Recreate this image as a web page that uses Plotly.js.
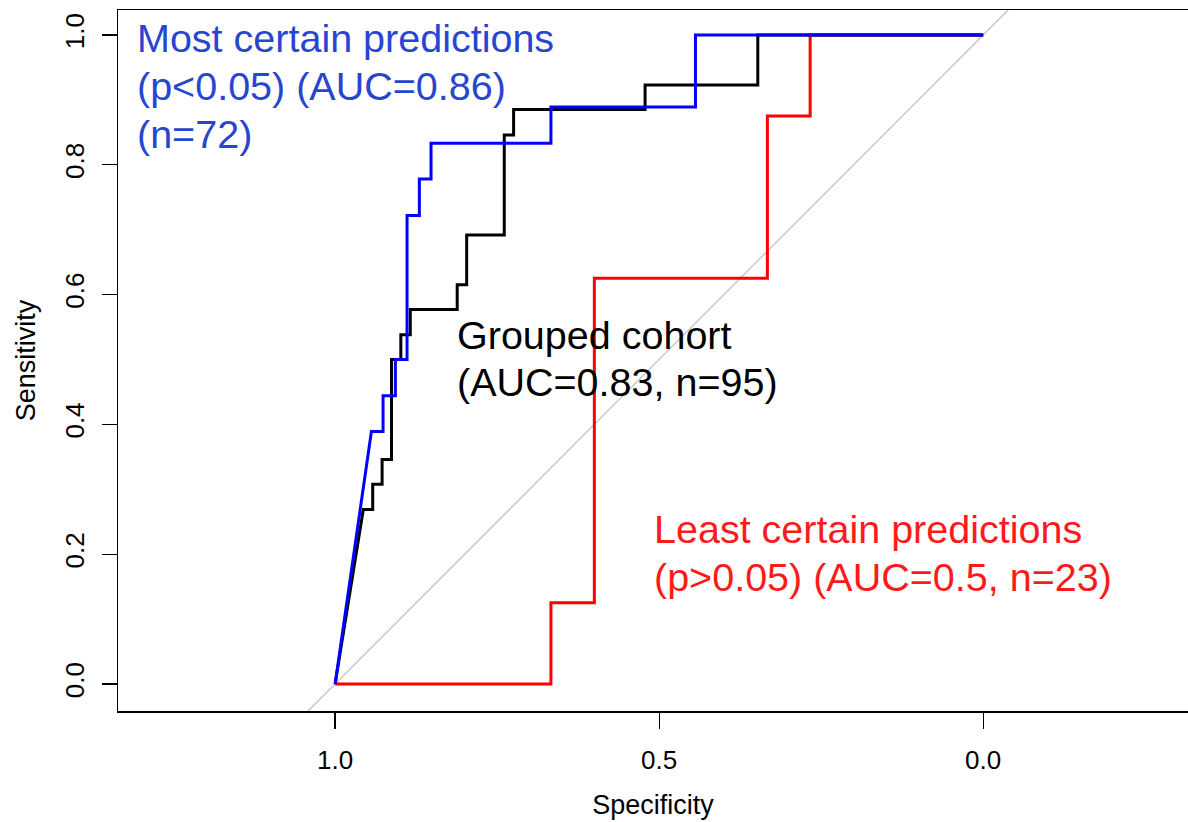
<!DOCTYPE html>
<html>
<head>
<meta charset="utf-8">
<script src="https://cdn.plot.ly/plotly-3.0.1.min.js"></script>
<style>html,body{margin:0;padding:0;background:#fff;}#chart{width:1188px;height:822px;}</style>
</head>
<body>
<div id="chart"></div>
<script>
// Grouped cohort (n=95)
const groupedSpec = [1, 0.9565, 0.942, 0.942, 0.9275, 0.9275, 0.913, 0.913, 0.8986, 0.8986, 0.884, 0.884, 0.8116, 0.8116, 0.797, 0.797, 0.739, 0.739, 0.7246, 0.7246, 0.5217, 0.5217, 0.3478, 0.3478, 0];
const groupedSens = [0, 0.269, 0.269, 0.3077, 0.3077, 0.346, 0.346, 0.5, 0.5, 0.538, 0.538, 0.577, 0.577, 0.615, 0.615, 0.692, 0.692, 0.846, 0.846, 0.885, 0.885, 0.923, 0.923, 1, 1];
// Most certain predictions (n=72)
const certainSpec = [1, 0.944, 0.926, 0.926, 0.907, 0.907, 0.889, 0.889, 0.870, 0.870, 0.852, 0.852, 0.667, 0.667, 0.444, 0.444, 0];
const certainSens = [0, 0.389, 0.389, 0.444, 0.444, 0.5, 0.5, 0.722, 0.722, 0.778, 0.778, 0.833, 0.833, 0.889, 0.889, 1, 1];
// Least certain predictions (n=23)
const leastSpec = [1, 0.667, 0.667, 0.6, 0.6, 0.333, 0.333, 0.267, 0.267, 0];
const leastSens = [0, 0, 0.125, 0.125, 0.625, 0.625, 0.875, 0.875, 1, 1];
// Chance diagonal
const diagSpec = [1.2, -0.2];
const diagSens = [-0.2, 1.2];

const xTicks = [1.0, 0.5, 0.0];
const xTickText = ["1.0", "0.5", "0.0"];
const yTicks = [0, 0.2, 0.4, 0.6, 0.8, 1.0];
const yTickText = ["0.0", "0.2", "0.4", "0.6", "0.8", "1.0"];

// Curve labels, one entry per text line
const labelLines = [
  {text: "Most certain predictions", x: 1.309, y: 0.995, color: "#2845d2"},
  {text: "(p<0.05) (AUC=0.86)", x: 1.309, y: 0.921, color: "#2845d2"},
  {text: "(n=72)", x: 1.309, y: 0.848, color: "#2845d2"},
  {text: "Grouped cohort", x: 0.815, y: 0.537, color: "#000000"},
  {text: "(AUC=0.83, n=95)", x: 0.815, y: 0.465, color: "#000000"},
  {text: "Least certain predictions", x: 0.511, y: 0.239, color: "#ff1a1a"},
  {text: "(p>0.05) (AUC=0.5, n=23)", x: 0.511, y: 0.165, color: "#ff1a1a"}
];

const FONT = "Liberation Sans, Arial, sans-serif";

const traces = [
  {x: diagSpec, y: diagSens, mode: "lines", line: {color: "#bdbdbd", width: 1.2}, hoverinfo: "skip"},
  {x: leastSpec, y: leastSens, mode: "lines", line: {color: "#ff0000", width: 3}},
  {x: groupedSpec, y: groupedSens, mode: "lines", line: {color: "#000000", width: 3}},
  {x: certainSpec, y: certainSens, mode: "lines", line: {color: "#0000ff", width: 3}}
];

const layout = {
  width: 1188, height: 822,
  margin: {l: 118, r: 0, t: 10, b: 111, pad: 0},
  paper_bgcolor: "#fff", plot_bgcolor: "#fff",
  showlegend: false,
  font: {family: FONT, color: "#000"},
  xaxis: {
    range: [1.335, -0.316], showgrid: false, zeroline: false,
    showline: true, linecolor: "#000", linewidth: 1.5, mirror: true,
    ticks: "outside", ticklen: 16, tickwidth: 1.3, tickcolor: "#000",
    tickvals: xTicks, ticktext: xTickText, tickfont: {size: 26, color: "#000", family: FONT},
    ticklabelstandoff: 9,
    title: {text: "Specificity", font: {size: 27, color: "#000", family: FONT}, standoff: 21}
  },
  yaxis: {
    range: [-0.0416, 1.0385], showgrid: false, zeroline: false,
    showline: true, linecolor: "#000", linewidth: 1.5, mirror: false,
    ticks: "outside", ticklen: 15, tickwidth: 1.3, tickcolor: "#000",
    tickvals: yTicks, ticktext: yTickText, tickangle: -90,
    tickfont: {size: 26, color: "#000", family: FONT},
    ticklabelstandoff: 7,
    title: {text: "Sensitivity", font: {size: 27, color: "#000", family: FONT}, standoff: 16}
  },
  annotations: labelLines.map(l => ({
    text: l.text, x: l.x, y: l.y, xref: "x", yref: "y",
    xanchor: "left", yanchor: "middle", align: "left", showarrow: false,
    font: {size: 39.5, color: l.color, family: FONT}
  }))
};

Plotly.newPlot("chart", traces, layout, {displayModeBar: false, staticPlot: true});
</script>
</body>
</html>
